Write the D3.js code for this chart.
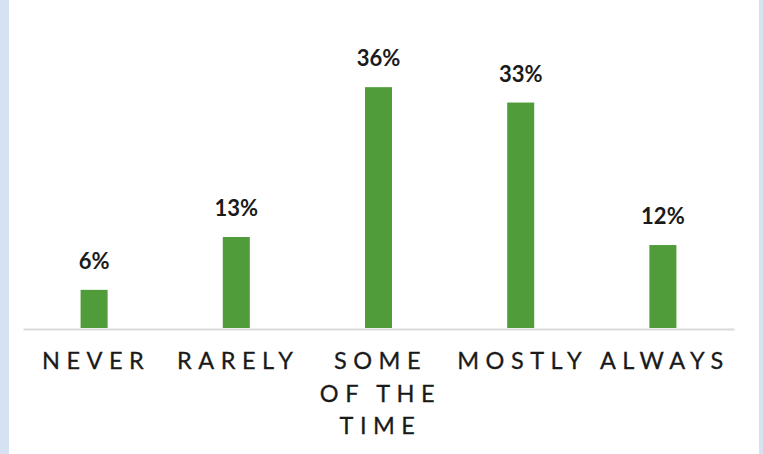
<!DOCTYPE html>
<html><head><meta charset="utf-8">
<script src="https://cdn.jsdelivr.net/npm/d3@7"></script>
<style>
html,body{margin:0;padding:0;background:#d6e2f1;}
svg{display:block;}
</style></head>
<body>
<svg id="chart" width="763" height="454"></svg>
<script>
const categories = ["NEVER", "RARELY", "SOME OF THE TIME", "MOSTLY", "ALWAYS"];
const categoryLines = [["NEVER"], ["RARELY"], ["SOME", "OF THE", "TIME"], ["MOSTLY"], ["ALWAYS"]];
const values = [5.7, 13.6, 36, 33.7, 12.4];
const valueLabels = ["6%", "13%", "36%", "33%", "12%"];

const W = 763, H = 454;
const svg = d3.select("#chart");
svg.append("rect").attr("x", 9).attr("y", 0).attr("width", 750).attr("height", H).attr("fill", "#ffffff");

const x = d3.scaleBand().domain(categories).range([23, 734]).paddingInner(0.81).paddingOuter(0.405);
const y = d3.scaleLinear().domain([0, 40]).range([328, 60.4]);

const g = svg.append("g");
g.selectAll("rect.bar").data(values).join("rect")
  .attr("class", "bar")
  .attr("x", (d, i) => x(categories[i]))
  .attr("width", x.bandwidth())
  .attr("y", d => y(d))
  .attr("height", d => y(0) - y(d))
  .attr("fill", "#509c3b");

const axis = d3.axisBottom(x).tickSize(0).tickFormat("");
const ax = svg.append("g").attr("transform", `translate(0,${y(0)+1})`).call(axis);
ax.select(".domain").attr("stroke", "#d9d9d9").attr("stroke-width", 2);

g.selectAll("text.val").data(values).join("text")
  .attr("class", "val")
  .attr("x", (d, i) => x(categories[i]) + x.bandwidth() / 2)
  .attr("y", d => y(d) - 21)
  .attr("text-anchor", "middle")
  .attr("font-family", "Lato")
  .attr("font-weight", 700)
  .attr("font-size", 22)
  .attr("fill", "#1a1a1a")
  .text((d, i) => valueLabels[i]);

const lab = g.selectAll("text.cat").data(categories).join("text")
  .attr("class", "cat")
  .attr("text-anchor", "middle")
  .attr("font-family", "Lato")
  .attr("font-size", 23.5)
  .attr("letter-spacing", "6.5px")
  .attr("fill", "#1a1a1a")
  .attr("stroke", "#1a1a1a")
  .attr("stroke-width", 0.3);
lab.each(function(d, i) {
  const cx = x(d) + x.bandwidth() / 2 + 2;
  d3.select(this).selectAll("tspan").data(categoryLines[i]).join("tspan")
    .attr("x", cx)
    .attr("y", (t, j) => 369 + j * 32.5)
    .text(t => t);
});
</script>
</body></html>
